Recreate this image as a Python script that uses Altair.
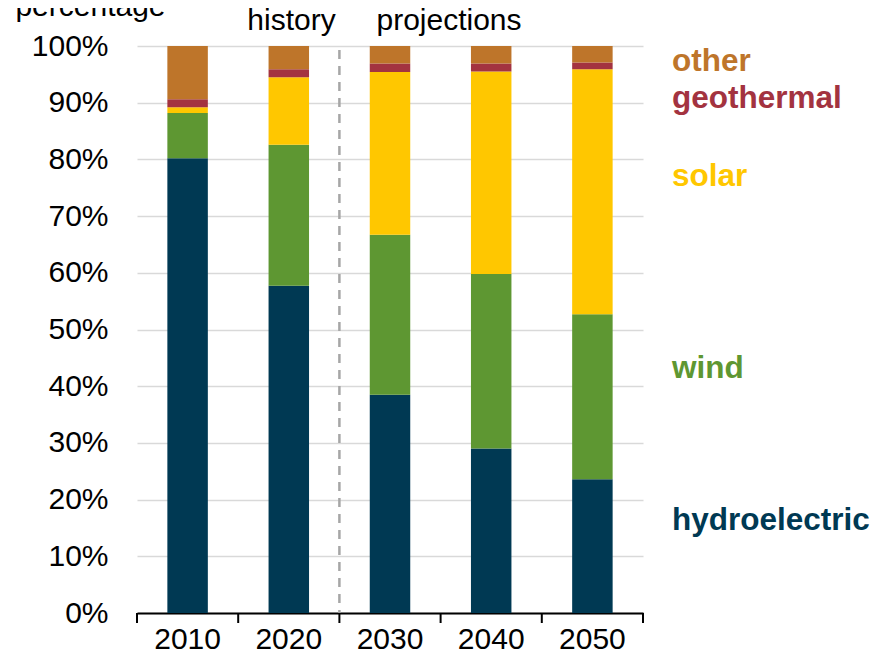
import altair as alt
import pandas as pd

years = ["2010", "2020", "2030", "2040", "2050"]
hydroelectric = [80.2, 57.7, 38.5, 29.0, 23.6]
wind = [8.0, 24.9, 28.2, 30.8, 29.1]
solar = [1.0, 11.9, 28.7, 35.7, 43.2]
geothermal = [1.4, 1.4, 1.5, 1.4, 1.2]
other = [9.4, 4.1, 3.1, 3.1, 2.9]

sources = ["hydroelectric", "wind", "solar", "geothermal", "other"]
colors = ["#003953", "#5e9732", "#ffc700", "#a33340", "#be752a"]
series = [hydroelectric, wind, solar, geothermal, other]

# label anchor values (in % of the y scale) for the right-hand series labels
label_anchor = [16.2, 43.1, 76.9, 90.7, 97.2]

periods = ["history", "projections"]

FONT = "Liberation Sans"

rows = []
for i, (src, vals) in enumerate(zip(sources, series)):
    for y, v in zip(years, vals):
        rows.append({"year": y, "source": src, "value": v, "idx": i})
df = pd.DataFrame(rows)

labels_df = pd.DataFrame({"source": sources, "pos": label_anchor})
years_df = pd.DataFrame({"year": years})

color_scale = alt.Scale(domain=sources, range=colors)
y_scale = alt.Scale(domain=[0, 100], nice=False)
x_scale = alt.Scale(domain=years, paddingInner=0, paddingOuter=0)

bars = alt.Chart(df).mark_bar(width=alt.RelativeBandSize(0.4)).encode(
    x=alt.X(
        "year:N",
        scale=x_scale,
        axis=alt.Axis(
            title=None,
            labelAngle=0,
            labelFont=FONT,
            labelFontSize=30,
            labelColor="#000000",
            labelPadding=11,
            domainColor="#000000",
            domainWidth=2,
            ticks=False,
            grid=False,
        ),
    ),
    y=alt.Y(
        "value:Q",
        stack="zero",
        scale=y_scale,
        axis=alt.Axis(
            values=[0, 10, 20, 30, 40, 50, 60, 70, 80, 90, 100],
            labelExpr="datum.value + '%'",
            grid=True,
            gridColor="#d9d9d9",
            gridWidth=1.5,
            domain=False,
            ticks=False,
            tickSize=0,
            labelPadding=29,
            labelFont=FONT,
            labelFontSize=30,
            labelColor="#000000",
            title="percentage",
            titleFont=FONT,
            titleFontSize=30,
            titleFontWeight="normal",
            titleColor="#000000",
            titleAngle=0,
            titleAlign="center",
            titleBaseline="alphabetic",
            titleX=-47,
            titleY=-31,
        ),
    ),
    color=alt.Color("source:N", scale=color_scale, legend=None),
    order=alt.Order("idx:Q", sort="ascending"),
)

# x-axis ticks at the category boundaries
ticks_start = alt.Chart(years_df).mark_rule(color="#000000", strokeWidth=2).encode(
    x=alt.X("year:N", scale=x_scale, bandPosition=0),
    y=alt.value(567),
    y2=alt.value(577),
)
ticks_end = alt.Chart(years_df[years_df["year"] == years[-1]]).mark_rule(
    color="#000000", strokeWidth=2
).encode(
    x=alt.X("year:N", scale=x_scale, bandPosition=1),
    y=alt.value(567),
    y2=alt.value(577),
)

divider = alt.Chart(years_df[years_df["year"] == years[2]]).mark_rule(
    color="#a6a6a6", strokeWidth=2.5, strokeDash=[9, 7]
).encode(
    x=alt.X("year:N", scale=x_scale, bandPosition=0),
    y=alt.value(4),
    y2=alt.value(567),
)

series_labels = alt.Chart(labels_df).mark_text(
    align="left", baseline="middle", font=FONT, fontSize=31.5, fontWeight="bold"
).encode(
    x=alt.value(535),
    y=alt.Y("pos:Q", scale=y_scale),
    text="source:N",
    color=alt.Color("source:N", scale=color_scale, legend=None),
)

hist_label = alt.Chart(pd.DataFrame({"t": [periods[0]]})).mark_text(
    align="center", baseline="alphabetic", font=FONT, fontSize=30, color="#000000"
).encode(x=alt.value(154.5), y=alt.value(-16), text="t:N")

proj_label = alt.Chart(pd.DataFrame({"t": [periods[1]]})).mark_text(
    align="center", baseline="alphabetic", font=FONT, fontSize=30, color="#000000"
).encode(x=alt.value(312), y=alt.value(-16), text="t:N")

chart = (
    alt.layer(bars, ticks_start, ticks_end, divider, series_labels, hist_label, proj_label)
    .properties(
        width=506,
        height=567,
        padding={"left": 129, "top": 38, "right": 230, "bottom": 50},
        autosize=alt.AutoSizeParams(type="none"),
    )
    .configure_view(stroke=None)
)

chart.save("out.html", embed_options={"renderer": "svg", "actions": False})
